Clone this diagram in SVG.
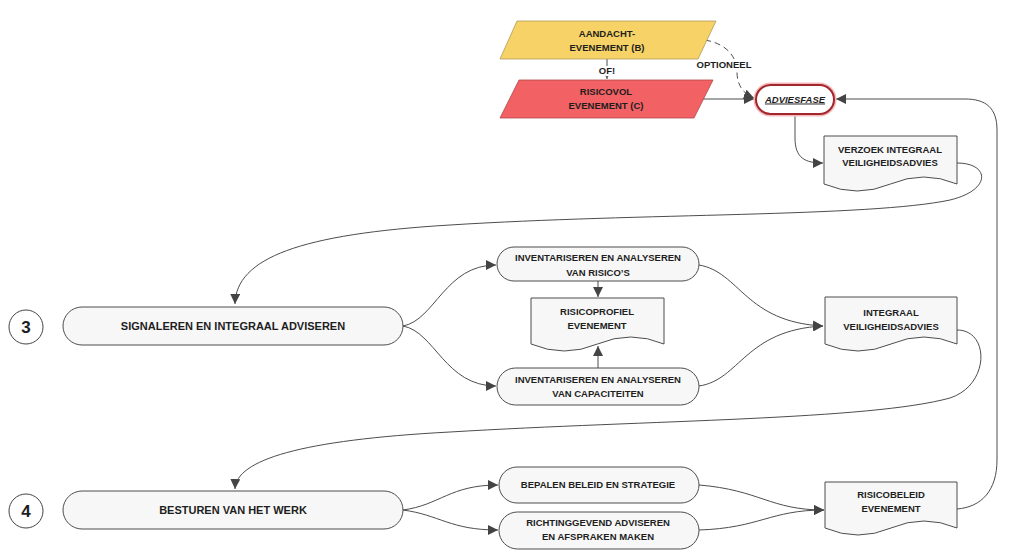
<svg xmlns="http://www.w3.org/2000/svg" width="1010" height="554" viewBox="0 0 1010 554">
<style>
text{font-family:"Liberation Sans",Arial,sans-serif;font-weight:bold;fill:#1e1e1e;text-anchor:middle}
.s{font-size:9.5px}
.m{font-size:11px}
.n{font-size:17px}
.node{fill:#f7f7f7;stroke:#4d4d4d;stroke-width:1}
.c{fill:none;stroke:#4d4d4d;stroke-width:1}
.halo{stroke:#fff;stroke-width:4px;paint-order:stroke;stroke-linejoin:round}
</style>
<defs>
<marker id="ar" viewBox="0 0 10 10" refX="10" refY="5" markerWidth="10" markerHeight="10" markerUnits="userSpaceOnUse" orient="auto">
<path d="M0,0 L10,5 L0,10 z" fill="#444"/>
</marker>
<marker id="ars" viewBox="0 0 10 10" refX="10" refY="5" markerWidth="5" markerHeight="5" markerUnits="userSpaceOnUse" orient="auto">
<path d="M0,0 L10,5 L0,10 z" fill="#666"/>
</marker>
</defs>
<rect width="1010" height="554" fill="#fff"/>
<g id="connectors">
<path class="c" d="M607,59 V79" stroke="#777" marker-end="url(#ars)"/>
<path class="c" d="M705,40 C728,44 737,58 737,72 C737,86 744,94 754,98" stroke-dasharray="6,4" marker-end="url(#ar)"/>
<path class="c" d="M703,99 H754" marker-end="url(#ar)"/>
<path class="c" d="M795,114 V138 C795,158 805,163 823,163" marker-end="url(#ar)"/>
<path class="c" d="M957,163 C990,163 992,190 950,200 C870,217 640,213 450,225 C300,234 236,258 235,304" marker-end="url(#ar)"/>
<path class="c" d="M403,326 C435,320 445,265 496,265" marker-end="url(#ar)"/>
<path class="c" d="M403,326 C435,332 445,386 496,386" marker-end="url(#ar)"/>
<path class="c" d="M598,281 V297" marker-end="url(#ar)"/>
<path class="c" d="M598,368 V346" marker-end="url(#ar)"/>
<path class="c" d="M699,265 C740,272 745,322 823,326" marker-end="url(#ar)"/>
<path class="c" d="M699,386 C740,380 745,330 823,326" marker-end="url(#ar)"/>
<path class="c" d="M957,330 C990,330 990,385 950,398 C870,420 650,420 450,432 C300,440 236,460 235,489" marker-end="url(#ar)"/>
<path class="c" d="M403,510 C440,505 450,485 498,485" marker-end="url(#ar)"/>
<path class="c" d="M403,510 C440,515 450,530 498,530" marker-end="url(#ar)"/>
<path class="c" d="M699,485 C760,490 770,510 824,510" marker-end="url(#ar)"/>
<path class="c" d="M699,530 C760,528 770,510 824,510" marker-end="url(#ar)"/>
<path class="c" d="M957,509 C982,507 997,490 997,460 V130 C997,108 986,99 965,99 H836" marker-end="url(#ar)"/>
<text class="s halo" x="607" y="74">OF!</text>
<text class="s halo" x="724" y="68">OPTIONEEL</text>
</g>
<g id="aandacht">
<polygon points="517,21 716,21 698,59 500,59" fill="#f7d266" stroke="#b09a5a" stroke-width="0.8"/>
<text class="s" x="607" y="37">AANDACHT-</text>
<text class="s" x="607" y="51">EVENEMENT (B)</text>
</g>
<g id="risicovol">
<polygon points="519,80 713,80 694,118 500,118" fill="#f26163" stroke="#b04848" stroke-width="0.8"/>
<text class="s" x="606" y="95">RISICOVOL</text>
<text class="s" x="606" y="109">EVENEMENT (C)</text>
</g>
<g id="adviesfase">
<rect x="756" y="85" width="78" height="29" rx="14.5" fill="#fff" stroke="#f3b9bb" stroke-width="5"/>
<rect x="756" y="85" width="78" height="29" rx="14.5" fill="#fff" stroke="#a3262c" stroke-width="2"/>
<text class="s" x="795" y="102.5" font-style="italic" text-decoration="underline">ADVIESFASE</text>
</g>
<g id="verzoek">
<path class="node" d="M824,136 H957 V184 Q923.75,170 890.5,184 T824,184 Z"/>
<text class="s" x="890" y="153">VERZOEK INTEGRAAL</text>
<text class="s" x="890" y="166">VEILIGHEIDSADVIES</text>
</g>
<g id="num3">
<circle cx="26" cy="327" r="17" fill="#fff" stroke="#444"/>
<text class="n" x="26" y="333">3</text>
</g>
<g id="signaleren">
<rect class="node" x="63" y="307" width="340" height="38" rx="19"/>
<text class="m" x="233" y="330">SIGNALEREN EN INTEGRAAL ADVISEREN</text>
</g>
<g id="inv-risico">
<rect class="node" x="497" y="247" width="202" height="34" rx="17"/>
<text class="s" x="598" y="261">INVENTARISEREN EN ANALYSEREN</text>
<text class="s" x="598" y="276">VAN RISICO’S</text>
</g>
<g id="risicoprofiel">
<path class="node" d="M531,298 H664 V344 Q630.75,330 597.5,344 T531,344 Z"/>
<text class="s" x="597" y="315">RISICOPROFIEL</text>
<text class="s" x="597" y="329">EVENEMENT</text>
</g>
<g id="inv-capaciteiten">
<rect class="node" x="497" y="368" width="202" height="37" rx="18.5"/>
<text class="s" x="598" y="383">INVENTARISEREN EN ANALYSEREN</text>
<text class="s" x="598" y="397">VAN CAPACITEITEN</text>
</g>
<g id="integraal">
<path class="node" d="M825,297 H957 V344 Q924,330 891,344 T825,344 Z"/>
<text class="s" x="891" y="316">INTEGRAAL</text>
<text class="s" x="891" y="330">VEILIGHEIDSADVIES</text>
</g>
<g id="num4">
<circle cx="26" cy="511" r="17" fill="#fff" stroke="#444"/>
<text class="n" x="26" y="517">4</text>
</g>
<g id="besturen">
<rect class="node" x="63" y="491" width="340" height="38" rx="19"/>
<text class="m" x="233" y="514">BESTUREN VAN HET WERK</text>
</g>
<g id="bepalen">
<rect class="node" x="499" y="467" width="200" height="36" rx="18"/>
<text class="s" x="598" y="488">BEPALEN BELEID EN STRATEGIE</text>
</g>
<g id="richtinggevend">
<rect class="node" x="499" y="512" width="200" height="37" rx="18.5"/>
<text class="s" x="598" y="526">RICHTINGGEVEND ADVISEREN</text>
<text class="s" x="598" y="540">EN AFSPRAKEN MAKEN</text>
</g>
<g id="risicobeleid">
<path class="node" d="M825,482 H957 V528 Q924,514 891,528 T825,528 Z"/>
<text class="s" x="891" y="498">RISICOBELEID</text>
<text class="s" x="891" y="512">EVENEMENT</text>
</g>
</svg>
